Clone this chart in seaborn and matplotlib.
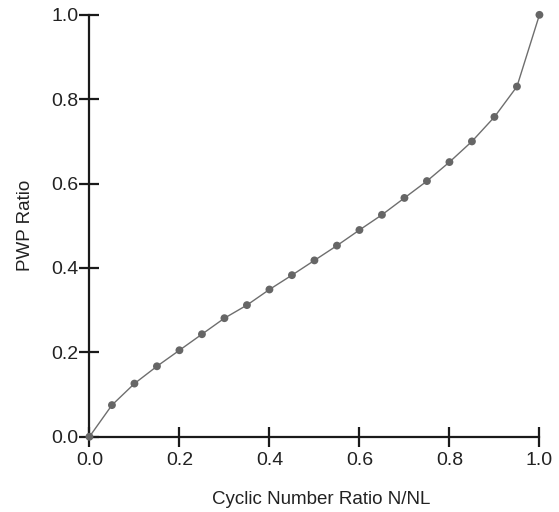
import matplotlib
matplotlib.use("Agg")
import matplotlib.pyplot as plt
import seaborn as sns
import pandas as pd

cyclic_ratio = [0.0, 0.05, 0.10, 0.15, 0.20, 0.25, 0.30, 0.35, 0.40, 0.45, 0.50,
                0.55, 0.60, 0.65, 0.70, 0.75, 0.80, 0.85, 0.90, 0.95, 1.0]
pwp_ratio = [0.0, 0.075, 0.126, 0.167, 0.205, 0.243, 0.281, 0.312, 0.349, 0.383, 0.418,
             0.453, 0.490, 0.526, 0.566, 0.606, 0.651, 0.700, 0.758, 0.830, 1.0]
tick_values = [0.0, 0.2, 0.4, 0.6, 0.8, 1.0]
tick_labels = ["0.0", "0.2", "0.4", "0.6", "0.8", "1.0"]

df = pd.DataFrame({"x": cyclic_ratio, "y": pwp_ratio})

sns.set_style("white")
plt.rcParams["font.family"] = ["Liberation Sans", "DejaVu Sans"]

fig = plt.figure(figsize=(5.59, 5.12), dpi=100)
ax = fig.add_axes([0.160, 0.147, 0.805, 0.824])

sns.lineplot(data=df, x="x", y="y", ax=ax, color="#6e6e6e", linewidth=1.0)
sns.scatterplot(data=df, x="x", y="y", ax=ax, color="#666666", s=32,
                edgecolor="none", zorder=3, clip_on=False)

ax.set_xlim(0, 1)
ax.set_ylim(0, 1)
ax.set_xticks(tick_values)
ax.set_xticklabels(tick_labels)
ax.set_yticks(tick_values)
ax.set_yticklabels(tick_labels)

for s in ["top", "right"]:
    ax.spines[s].set_visible(False)
for s in ["left", "bottom"]:
    ax.spines[s].set_color("#1a1a1a")
    ax.spines[s].set_linewidth(1.6)

ax.tick_params(axis="both", which="major", bottom=True, left=True,
               direction="inout", length=14, width=1.6,
               color="#1a1a1a", labelsize=14, labelcolor="#222222")
ax.tick_params(axis="y", pad=1)
ax.tick_params(axis="x", pad=4)

ax.set_xlabel("Cyclic Number Ratio N/NL", fontsize=13.5, color="#222222")
ax.xaxis.set_label_coords(0.515, -0.128)
ax.set_ylabel("PWP Ratio", fontsize=13.5, color="#222222", labelpad=12)

fig.savefig("out.png", dpi=100)
